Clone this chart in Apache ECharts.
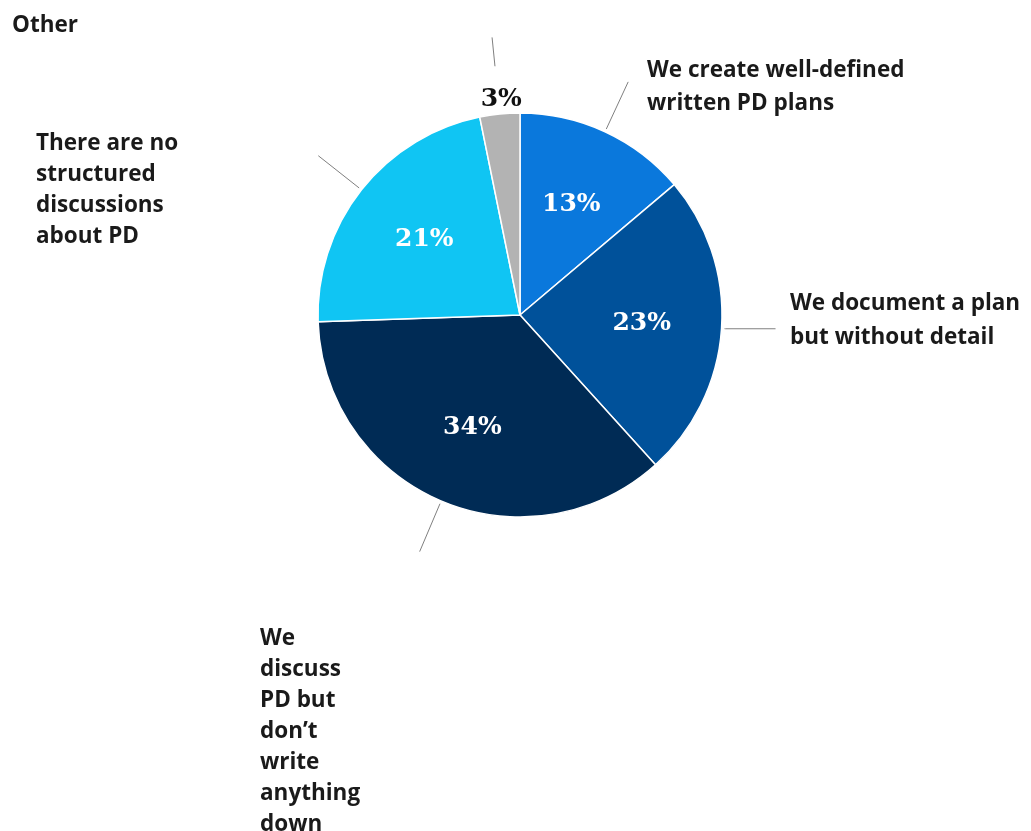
<!DOCTYPE html>
<html>
<head>
<meta charset="utf-8">
<script src="https://cdn.jsdelivr.net/npm/echarts@6/dist/echarts.min.js"></script>
<style>
html,body{margin:0;padding:0;background:#fff;}
#chart{width:1031px;height:831px;}
</style>
</head>
<body>
<div id="chart"></div>
<script>
// ---- data ----
const categories = [
  'We create well-defined\nwritten PD plans',
  'We document a plan\nbut without detail',
  'We\ndiscuss\nPD but\ndon\u2019t\nwrite\nanything\ndown',
  'There are no\nstructured\ndiscussions\nabout PD',
  'Other'
];
const values = [13, 23, 34, 21, 3];
const sliceColors = ['#0A78DC', '#00519A', '#002B55', '#10C5F3', '#B3B3B3'];

// ---- layout (not data) ----
const CX = 520, CY = 315, R = 202;
const labelTopLeft = [[647, 54], [790, 287], [260, 623], [36, 128], [12, 10]];
const labelLineHeights = [33, 34, 31, 31, 31];
const TEXT_FONT = '"Open Sans", "Noto Sans", sans-serif';
const PCT_FONT = '"DejaVu Serif", Georgia, serif';

const total = values.reduce((a, b) => a + b, 0);
function midAngle(i) {
  let cum = 0;
  for (let k = 0; k < i; k++) cum += values[k];
  return (cum + values[i] / 2) / total * Math.PI * 2;
}

const transparent = { color: 'rgba(0,0,0,0)', borderWidth: 0 };

const chart = echarts.init(document.getElementById('chart'), null, { renderer: 'canvas' });

const pctData = values.map((v, i) => {
  const item = { name: categories[i], value: v };
  if (i === 4) {
    const a = midAngle(i);
    const d = 215 - 120;
    item.label = { color: '#111', offset: [Math.sin(a) * d + 3, -Math.cos(a) * d] };
  }
  return item;
});

const leaderData = values.map((v, i) => {
  const item = {
    name: categories[i], value: v,
    labelLine: { show: i !== 4 }, label: { show: i !== 4 }
  };
  if (i === 1) item.labelLine = { show: true, length: 1, length2: 50 };
  return item;
});
const leaderOtherData = values.map((v, i) => ({
  name: categories[i], value: v,
  labelLine: { show: i === 4 }, label: { show: i === 4 }
}));

const common = {
  type: 'pie', center: [CX, CY], clockwise: true, startAngle: 90,
  silent: true, avoidLabelOverlap: false, animation: false,
  emphasis: { disabled: true }
};

chart.setOption({
  backgroundColor: '#fff',
  animation: false,
  series: [
    Object.assign({}, common, {
      name: 'slices',
      radius: R,
      data: values.map((v, i) => ({ name: categories[i], value: v, itemStyle: { color: sliceColors[i] } })),
      itemStyle: { borderColor: '#fff', borderWidth: 1.5 },
      label: { show: false }, labelLine: { show: false }
    }),
    Object.assign({}, common, {
      name: 'percent',
      radius: [0, 238],
      data: pctData,
      itemStyle: transparent,
      label: {
        show: true, position: 'inside', formatter: '{c}%',
        color: '#fff', fontFamily: PCT_FONT, fontWeight: 'bold', fontSize: 25
      },
      labelLine: { show: false }
    }),
    Object.assign({}, common, {
      name: 'leaders',
      radius: 205,
      data: leaderData,
      itemStyle: transparent,
      label: { formatter: ' ', color: 'rgba(0,0,0,0)', fontSize: 4, distanceToLabelLine: 0 },
      labelLine: { length: 52, length2: 0, smooth: false, lineStyle: { color: '#808080', width: 1 } }
    }),
    Object.assign({}, common, {
      name: 'leaderOther',
      radius: 250,
      data: leaderOtherData,
      itemStyle: transparent,
      label: { formatter: ' ', color: 'rgba(0,0,0,0)', fontSize: 4, distanceToLabelLine: 0 },
      labelLine: { length: 29, length2: 0, smooth: false, lineStyle: { color: '#808080', width: 1 } }
    }),
    Object.assign({}, common, {
      name: 'names',
      radius: R,
      data: values.map((v, i) => ({
        name: categories[i], value: v,
        label: { lineHeight: labelLineHeights[i] }
      })),
      itemStyle: transparent,
      label: {
        show: true, position: 'outside', formatter: '{b}',
        color: '#1a1a1a', fontFamily: TEXT_FONT, fontWeight: 'bold',
        fontSize: 22.5
      },
      labelLine: { show: false },
      labelLayout: function (p) {
        const pos = labelTopLeft[p.dataIndex];
        return { x: pos[0], y: pos[1], align: 'left', verticalAlign: 'top' };
      }
    })
  ]
});
</script>
</body>
</html>
